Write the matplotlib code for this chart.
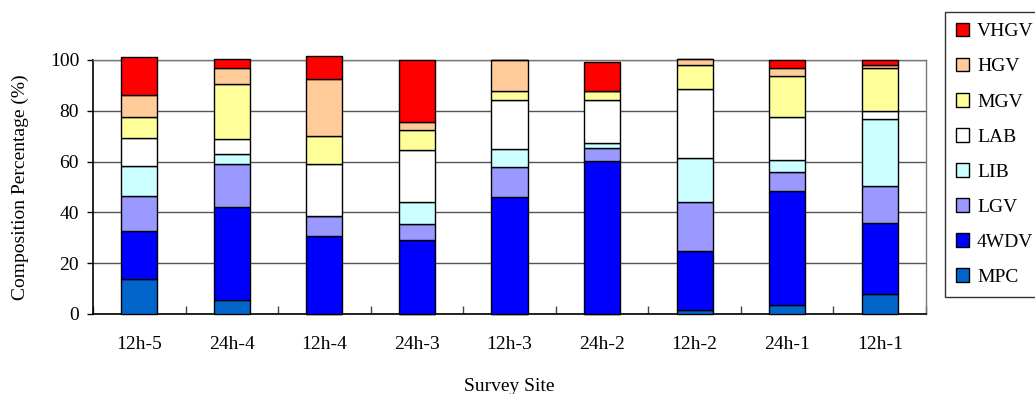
#!/usr/bin/env python3
"""Stacked vehicle composition per survey site."""

import matplotlib
matplotlib.use('Agg')
import matplotlib.pyplot as plt
import numpy as np

sites = ['12h-5', '24h-4', '12h-4', '24h-3', '12h-3', '24h-2', '12h-2', '24h-1', '12h-1']

# vehicle classes, bottom of the stack first
classes = ['MPC', '4WDV', 'LGV', 'LIB', 'LAB', 'MGV', 'HGV', 'VHGV']
colors = ['#0066CC', '#0000FF', '#9999FF', '#CCFFFF', '#FFFFFF', '#FFFF99', '#FFCC99', '#FF0000']

# composition share (%) per class, one value per site
mpc = [13.6, 5.4, 0.0, 0.0, 0.0, 0.0, 1.6, 3.5, 7.9]
wdv4 = [19.1, 36.7, 30.9, 29.1, 45.9, 60.1, 23.1, 44.8, 28.0]
lgv = [13.8, 16.8, 7.5, 6.2, 11.8, 5.3, 19.2, 7.5, 14.4]
lib = [11.7, 4.2, 0.0, 8.7, 7.4, 2.1, 17.5, 4.9, 26.4]
lab = [11.2, 5.7, 20.5, 20.5, 19.2, 16.8, 27.2, 16.8, 3.3]
mgv = [8.1, 21.8, 11.3, 8.0, 3.6, 3.6, 9.6, 16.2, 16.7]
hgv = [8.7, 6.3, 22.3, 3.2, 12.1, 0.0, 2.3, 3.0, 1.3]
vhgv = [15.1, 3.6, 9.1, 24.3, 0.0, 11.3, 0.0, 3.3, 2.0]

series = [mpc, wdv4, lgv, lib, lab, mgv, hgv, vhgv]

plt.rcParams['font.family'] = ['Liberation Serif', 'DejaVu Serif']

fig = plt.figure(figsize=(10.35, 3.94), dpi=100)
ax = fig.add_axes([93 / 1035, 1 - 314 / 394, 833 / 1035, 254 / 394])

x = np.arange(len(sites))
bottom = np.zeros(len(sites))
handles = []
for name, color, values in zip(classes, colors, series):
    values = np.array(values)
    bars = ax.bar(x, values, width=0.39, bottom=bottom, color=color,
                  edgecolor='black', linewidth=1.0, label=name, zorder=3,
                  clip_on=False)
    handles.append(bars)
    bottom += values

ax.set_xlim(-0.5, len(sites) - 0.5)
ax.set_ylim(0, 100)
ax.set_yticks(range(0, 101, 20))
ax.yaxis.grid(True, color='#555555', linewidth=1.0, zorder=0)
ax.set_axisbelow(True)

ax.set_xticks(x)
ax.set_xticklabels(sites, fontsize=14)
ax.set_xticks(np.arange(-0.5, len(sites)), minor=True)
ax.tick_params(axis='x', which='major', length=0, pad=16)
ax.tick_params(axis='x', which='minor', direction='in', length=6, width=1.0, color='#444444')
ax.tick_params(axis='y', direction='out', length=4, width=1.0, labelsize=14, pad=6)

for side in ('left', 'bottom'):
    ax.spines[side].set_color('black')
    ax.spines[side].set_linewidth(1.2)
for side in ('right', 'top'):
    ax.spines[side].set_color('#777777')
    ax.spines[side].set_linewidth(1.0)

ax.set_xlabel('Survey Site', fontsize=14, labelpad=18)
ax.set_ylabel('Composition Percentage (%)', fontsize=14, labelpad=15)

leg = fig.legend(handles[::-1], classes[::-1], loc='upper left',
                 bbox_to_anchor=(945 / 1035, 1 - 12 / 394), fontsize=14,
                 frameon=True, fancybox=False, handlelength=0.7, handleheight=0.7,
                 handletextpad=0.4, labelspacing=0.9, borderpad=0.55,
                 borderaxespad=0)
leg.get_frame().set_edgecolor('black')
leg.get_frame().set_linewidth(1.0)

fig.savefig('out.png', dpi=100)
